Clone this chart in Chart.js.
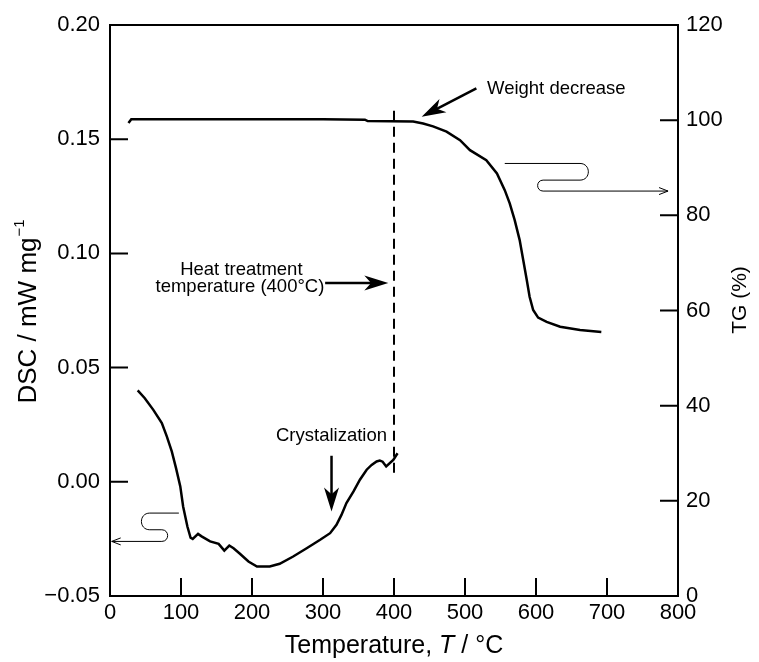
<!DOCTYPE html>
<html>
<head>
<meta charset="utf-8">
<script src="https://cdn.jsdelivr.net/npm/chart.js@4.4.1/dist/chart.umd.min.js"></script>
<style>
  html, body { margin: 0; padding: 0; background: #fff; }
  #wrap { width: 759px; height: 662px; }
</style>
</head>
<body>
<div id="wrap"><canvas id="dscTg"></canvas></div>
<script>
// DSC trace (left axis), recorded up to the heat treatment temperature
const dscTemp = [39, 49, 61, 73, 80, 87, 93, 99, 103, 109, 113.5, 116.5, 124, 129, 141, 153, 161, 168, 174, 183, 195, 207, 225, 239, 258, 277, 296, 310, 319, 326, 333, 343, 352, 361.5, 368.5, 375.5, 380, 384, 389, 399, 405];
const dscValue = [0.0400, 0.0366, 0.0315, 0.0257, 0.0199, 0.0133, 0.0060, -0.0020, -0.0108, -0.0196, -0.0245, -0.0250, -0.0228, -0.0239, -0.0261, -0.0272, -0.0301, -0.0279, -0.0291, -0.0315, -0.0349, -0.0371, -0.0371, -0.0359, -0.0327, -0.0291, -0.0254, -0.0225, -0.0188, -0.0145, -0.0093, -0.0042, 0.0009, 0.0053, 0.0074, 0.0089, 0.0093, 0.0088, 0.0067, 0.0096, 0.0125];

// TG trace (right axis)
const tgTemp = [26, 30, 100, 200, 300, 359, 363, 427, 441, 455, 474, 493, 507, 530, 545, 556, 563, 570, 577, 582, 587, 591, 596, 603, 615, 634, 662, 692];
const tgValue = [99.4, 100.2, 100.2, 100.2, 100.2, 100.1, 99.8, 99.7, 99.3, 98.7, 97.6, 95.8, 93.7, 91.6, 88.8, 85.3, 82.5, 79.0, 74.8, 70.6, 66.4, 62.9, 60.1, 58.5, 57.6, 56.6, 55.9, 55.5];

// heat treatment marker at 400 °C
const treatTemp = [400, 400];
const treatDsc = [0.004, 0.164];

const tempTicks = [0, 100, 200, 300, 400, 500, 600, 700, 800];
const dscTicks = [-0.05, 0, 0.05, 0.10, 0.15, 0.20];
const tgTicks = [0, 20, 40, 60, 80, 100, 120];

const FONT = "'Liberation Sans', Arial, Helvetica, sans-serif";
const toPoints = (xs, ys) => xs.map((x, i) => ({ x: x, y: ys[i] }));

function fixTicks(list) {
    return scale => { scale.ticks = list.map(v => ({ value: v })); };
}

// filled pointer head with a notched back
function solidHead(ctx, x1, y1, x2, y2, len, half) {
    const a = Math.atan2(y2 - y1, x2 - x1);
    ctx.save();
    ctx.translate(x2, y2);
    ctx.rotate(a);
    ctx.beginPath();
    ctx.moveTo(0, 0);
    ctx.lineTo(-len, -half);
    ctx.lineTo(-len * 0.72, 0);
    ctx.lineTo(-len, half);
    ctx.closePath();
    ctx.fill();
    ctx.restore();
}

function pointer(ctx, x1, y1, x2, y2) {
    const a = Math.atan2(y2 - y1, x2 - x1);
    ctx.lineWidth = 2.5;
    ctx.beginPath();
    ctx.moveTo(x1, y1);
    ctx.lineTo(x2 - Math.cos(a) * 16, y2 - Math.sin(a) * 16);
    ctx.stroke();
    solidHead(ctx, x1, y1, x2, y2, 24, 7.5);
}

// thin S-shaped lead pointing at the axis a curve belongs to
function snake(ctx, xs, ys) {
    ctx.lineWidth = 1;
    ctx.beginPath();
    ctx.moveTo(xs[0], ys[0]);
    for (let i = 0; i < ys.length; i++) {
        ctx.lineTo(xs[i + 1], ys[i]);
        if (i < ys.length - 1) {
            const d = Math.sign(xs[i + 1] - xs[i]);
            const k = 4 / 3 * Math.abs(ys[i + 1] - ys[i]) / 2;
            ctx.bezierCurveTo(xs[i + 1] + d * k, ys[i], xs[i + 1] + d * k, ys[i + 1], xs[i + 1], ys[i + 1]);
        }
    }
    ctx.stroke();
    const n = ys.length - 1;
    const tipX = xs[n + 1], tipY = ys[n];
    const d = Math.sign(xs[n + 1] - xs[n]);
    ctx.beginPath();
    ctx.moveTo(tipX - d * 9, tipY - 3.5);
    ctx.lineTo(tipX, tipY);
    ctx.lineTo(tipX - d * 9, tipY + 3.5);
    ctx.stroke();
}

const framePlugin = {
    id: 'frame',
    afterDraw(chart) {
        const ctx = chart.ctx;
        const { left, right, top, bottom } = chart.chartArea;
        const sx = chart.scales.x, sy = chart.scales.y, s1 = chart.scales.y1;
        ctx.save();
        ctx.strokeStyle = '#000';
        ctx.fillStyle = '#000';
        ctx.lineWidth = 2;
        ctx.strokeRect(left, top, right - left, bottom - top);

        // inward tick marks
        ctx.beginPath();
        tempTicks.slice(1, -1).forEach(v => {
            const x = sx.getPixelForValue(v);
            ctx.moveTo(x, bottom); ctx.lineTo(x, bottom - 18);
        });
        dscTicks.slice(1, -1).forEach(v => {
            const y = sy.getPixelForValue(v);
            ctx.moveTo(left, y); ctx.lineTo(left + 18, y);
        });
        tgTicks.slice(1, -1).forEach(v => {
            const y = s1.getPixelForValue(v);
            ctx.moveTo(right, y); ctx.lineTo(right - 18, y);
        });
        ctx.stroke();

        // annotations
        ctx.font = '18.5px ' + FONT;
        ctx.textBaseline = 'middle';
        ctx.textAlign = 'left';
        ctx.fillText('Weight decrease', sx.getPixelForValue(531), s1.getPixelForValue(106.5));
        pointer(ctx, sx.getPixelForValue(516), s1.getPixelForValue(106.7), sx.getPixelForValue(439), s1.getPixelForValue(100.7));

        ctx.textAlign = 'center';
        ctx.fillText('Heat treatment', sx.getPixelForValue(185), sy.getPixelForValue(0.0929));
        ctx.fillText('temperature (400\u00B0C)', sx.getPixelForValue(183), sy.getPixelForValue(0.0852));
        pointer(ctx, sx.getPixelForValue(303), sy.getPixelForValue(0.0870), sx.getPixelForValue(392), sy.getPixelForValue(0.0870));

        ctx.fillText('Crystalization', sx.getPixelForValue(312), sy.getPixelForValue(0.0201));
        pointer(ctx, sx.getPixelForValue(312), sy.getPixelForValue(0.0114), sx.getPixelForValue(312), sy.getPixelForValue(-0.0130));

        // leads to the matching axes
        snake(ctx,
            [sx.getPixelForValue(97), sx.getPixelForValue(56), sx.getPixelForValue(73), sx.getPixelForValue(2.4)],
            [sy.getPixelForValue(-0.0137), sy.getPixelForValue(-0.0210), sy.getPixelForValue(-0.0261)]);
        snake(ctx,
            [sx.getPixelForValue(556), sx.getPixelForValue(662), sx.getPixelForValue(610), sx.getPixelForValue(786)],
            [s1.getPixelForValue(90.9), s1.getPixelForValue(87.4), s1.getPixelForValue(85.1)]);

        // axis titles
        ctx.save();
        ctx.translate(29, 312);
        ctx.rotate(-Math.PI / 2);
        ctx.font = '26px ' + FONT;
        const main = 'DSC / mW mg';
        const wMain = ctx.measureText(main).width;
        ctx.font = '15px ' + FONT;
        const wSup = ctx.measureText('\u22121').width;
        const x0 = -(wMain + wSup) / 2;
        ctx.textAlign = 'left';
        ctx.font = '26px ' + FONT;
        ctx.fillText(main, x0, 0);
        ctx.font = '15px ' + FONT;
        ctx.fillText('\u22121', x0 + wMain + 1, -9);
        ctx.restore();

        ctx.save();
        ctx.translate(740, 300);
        ctx.rotate(-Math.PI / 2);
        ctx.font = '21px ' + FONT;
        ctx.textAlign = 'center';
        ctx.fillText('TG (%)', 0, 0);
        ctx.restore();

        const parts = [['Temperature, ', ''], ['T', 'italic '], [' / \u00B0C', '']];
        let total = 0;
        parts.forEach(p => { ctx.font = p[1] + '25px ' + FONT; total += ctx.measureText(p[0]).width; });
        let tx = (left + right) / 2 - total / 2;
        ctx.textAlign = 'left';
        parts.forEach(p => {
            ctx.font = p[1] + '25px ' + FONT;
            ctx.fillText(p[0], tx, 646);
            tx += ctx.measureText(p[0]).width;
        });
        ctx.restore();
    }
};

const tickFont = { family: FONT, size: 22 };

new Chart(document.getElementById('dscTg'), {
    type: 'line',
    data: {
        datasets: [
            {
                label: 'DSC',
                data: toPoints(dscTemp, dscValue),
                yAxisID: 'y',
                borderColor: '#000',
                borderWidth: 2.5,
                pointRadius: 0,
                tension: 0
            },
            {
                label: 'TG',
                data: toPoints(tgTemp, tgValue),
                yAxisID: 'y1',
                borderColor: '#000',
                borderWidth: 2.5,
                pointRadius: 0,
                tension: 0
            },
            {
                label: 'Heat treatment',
                data: toPoints(treatTemp, treatDsc),
                yAxisID: 'y',
                borderColor: '#000',
                borderWidth: 2,
                borderDash: [10, 6],
                pointRadius: 0
            }
        ]
    },
    options: {
        responsive: true,
        maintainAspectRatio: false,
        animation: false,
        layout: { padding: { top: 25, left: 0, right: 0, bottom: 0 } },
        plugins: { legend: { display: false }, tooltip: { enabled: false } },
        scales: {
            x: {
                type: 'linear', min: 0, max: 800,
                afterBuildTicks: fixTicks(tempTicks),
                afterFit: s => { s.height = 66; },
                grid: { display: false, drawTicks: false },
                border: { display: false },
                ticks: { font: tickFont, color: '#000', padding: 4, maxRotation: 0, autoSkip: false }
            },
            y: {
                type: 'linear', position: 'left', min: -0.05, max: 0.20,
                afterBuildTicks: fixTicks(dscTicks),
                afterFit: s => { s.width = 110; },
                grid: { display: false, drawTicks: false },
                border: { display: false },
                ticks: {
                    font: tickFont, color: '#000', padding: 10,
                    callback: v => v.toFixed(2).replace('-', '\u2212')
                }
            },
            y1: {
                type: 'linear', position: 'right', min: 0, max: 120,
                afterBuildTicks: fixTicks(tgTicks),
                afterFit: s => { s.width = 81; },
                grid: { display: false, drawTicks: false },
                border: { display: false },
                ticks: { font: tickFont, color: '#000', padding: 8 }
            }
        }
    },
    plugins: [framePlugin]
});
</script>
</body>
</html>
